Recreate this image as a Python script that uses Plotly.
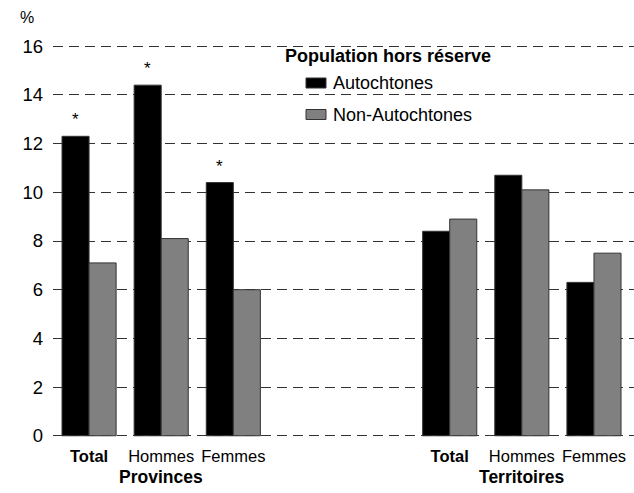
import plotly.graph_objects as go

groups = ["Provinces", "Territoires"]
subcats = ["Total", "Hommes", "Femmes"]
autochtones = [[12.3, 14.4, 10.4], [8.4, 10.7, 6.3]]
non_autochtones = [[7.1, 8.1, 6.0], [8.9, 10.1, 7.5]]
significant = [[True, True, True], [False, False, False]]  # marked with *
series_names = ["Autochtones", "Non-Autochtones"]
series_colors = ["#000000", "#808080"]
yticks = [0, 2, 4, 6, 8, 10, 12, 14, 16]

FONT = "Liberation Sans, Arial, sans-serif"
GROUP_STEP = 5  # category slots between group starts (2 empty slots in between)

# plot-area geometry in pixels (for legend placement helpers)
L, T, W, H = 53, 45, 581, 392
def px(x):
    return (x - L) / W
def py(y):
    return (T + H - y) / H

xs, ya, yn, labels = [], [], [], []
for g, grp in enumerate(groups):
    for i, sc in enumerate(subcats):
        xs.append(g * GROUP_STEP + i)
        ya.append(autochtones[g][i])
        yn.append(non_autochtones[g][i])
        labels.append("<b>Total</b>" if sc == "Total" else sc)

fig = go.Figure()
for name, vals, col in zip(series_names, [ya, yn], series_colors):
    fig.add_trace(go.Bar(x=xs, y=vals, name=name, marker_color=col,
                         marker_line=dict(color="#333333", width=1),
                         showlegend=False))

annotations = []
for g, grp in enumerate(groups):
    for i, sc in enumerate(subcats):
        if significant[g][i]:
            annotations.append(dict(x=g * GROUP_STEP + i - 0.1875, y=autochtones[g][i],
                                    xref="x", yref="y", text="*", showarrow=False,
                                    yanchor="bottom", yshift=5,
                                    font=dict(family=FONT, size=17, color="#000")))
    annotations.append(dict(x=g * GROUP_STEP + 1, y=py(477), xref="x", yref="paper",
                            text="<b>" + grp + "</b>", showarrow=False,
                            yanchor="middle",
                            font=dict(family=FONT, size=17.5, color="#000")))
annotations.append(dict(x=px(18), y=py(18), xref="paper", yref="paper", text="%",
                        showarrow=False, xanchor="left", yanchor="middle",
                        font=dict(family=FONT, size=16, color="#000")))
annotations.append(dict(x=px(283), y=py(56), xref="paper", yref="paper",
                        text="<b>Population hors réserve</b>", showarrow=False,
                        xanchor="left", yanchor="middle",
                        font=dict(family=FONT, size=18, color="#000")))

shapes = []
legend_rows = [83, 114.5]
for name, col, yc in zip(series_names, series_colors, legend_rows):
    shapes.append(dict(type="rect", xref="paper", yref="paper",
                       x0=px(306), x1=px(326), y0=py(yc - 5), y1=py(yc + 5),
                       fillcolor=col, line=dict(color="#333333", width=1)))
    annotations.append(dict(x=px(331), y=py(yc), xref="paper", yref="paper",
                            text=name, showarrow=False, xanchor="left",
                            yanchor="middle",
                            font=dict(family=FONT, size=18, color="#000")))

fig.update_layout(
    width=634, height=493,
    margin=dict(l=L, r=634 - L - W, t=T, b=493 - T - H),
    plot_bgcolor="white", paper_bgcolor="white",
    barmode="group", bargap=0.25, bargroupgap=0,
    font=dict(family=FONT, size=17, color="#000"),
    showlegend=False,
    xaxis=dict(range=[-0.5, 7.555], tickvals=xs, ticktext=labels,
               showgrid=False, zeroline=False, showline=False, ticks="",
               automargin=False, tickangle=0, ticklabelstandoff=7,
               tickfont=dict(family=FONT, size=16.5, color="#000")),
    yaxis=dict(range=[-0.05, 16.05], tickvals=yticks, showgrid=True,
               gridcolor="#333333", griddash="10px,6px", gridwidth=1,
               zeroline=False, showline=False, ticks="", automargin=False,
               ticklabelstandoff=9,
               tickfont=dict(family=FONT, size=18.5, color="#000")),
    annotations=annotations,
    shapes=shapes,
)

fig.write_html("out.html", config={"displayModeBar": False},
               post_script="document.body.style.margin='0px';")
